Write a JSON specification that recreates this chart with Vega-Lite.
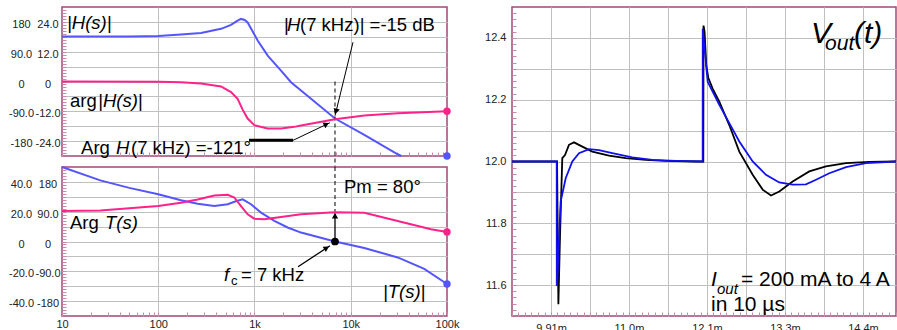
{
  "$schema": "https://vega.github.io/schema/vega-lite/v6.json",
  "padding": {"left": 7, "top": 5, "right": 0, "bottom": 0},
  "background": "white",
  "config": {
    "font": "Liberation Sans",
    "view": {"stroke": "#a04a78", "strokeWidth": 1.5},
    "axis": {"labelFont": "Liberation Sans", "labelFontSize": 11, "labelColor": "#222222", "domain": false, "gridColor": "#c0c0c0", "gridWidth": 1, "labelFlush": false, "labelOverlap": false},
    "text": {"font": "Liberation Sans"}
  },
  "datasets": {
    "Hmag": [{"f":10,"db":18.1},{"f":50,"db":18.1},{"f":100,"db":18.3},{"f":172,"db":18.9},{"f":278,"db":19.5},{"f":449,"db":21.2},{"f":570,"db":22.8},{"f":660,"db":24.4},{"f":724,"db":25.2},{"f":790,"db":24.8},{"f":849,"db":23.8},{"f":1078,"db":16.5},{"f":1371,"db":10.4},{"f":1885,"db":4.4},{"f":2394,"db":-0.3},{"f":3043,"db":-3.6},{"f":6855,"db":-14.9},{"f":13840,"db":-21.5},{"f":30750,"db":-29.3},{"f":33500,"db":-30}],
    "Hphase": [{"f":10,"deg":0},{"f":100,"deg":-1},{"f":172,"deg":-2},{"f":278,"deg":-6},{"f":449,"deg":-15},{"f":570,"deg":-32},{"f":668,"deg":-52},{"f":753,"deg":-85},{"f":849,"deg":-112},{"f":996,"deg":-132},{"f":1371,"deg":-142},{"f":1885,"deg":-142},{"f":2593,"deg":-137},{"f":3043,"deg":-133},{"f":6855,"deg":-114},{"f":13840,"deg":-103},{"f":30750,"deg":-96},{"f":100000,"deg":-90}],
    "Tmag": [{"f":10,"db":50},{"f":25,"db":41},{"f":50,"db":36},{"f":100,"db":31.7},{"f":172,"db":27.7},{"f":257,"db":25.4},{"f":382,"db":23.8},{"f":527,"db":25.0},{"f":640,"db":27},{"f":753,"db":28.3},{"f":920,"db":25.0},{"f":1169,"db":19.4},{"f":1607,"db":13.8},{"f":2211,"db":9.4},{"f":3043,"db":6.0},{"f":6855,"db":0},{"f":13840,"db":-4.4},{"f":30750,"db":-10.7},{"f":58070,"db":-18.4},{"f":100000,"db":-28.5}],
    "Tphase": [{"f":10,"deg":92},{"f":25,"deg":94},{"f":100,"deg":107},{"f":172,"deg":117},{"f":257,"deg":127},{"f":382,"deg":139},{"f":527,"deg":141},{"f":617,"deg":133},{"f":724,"deg":107},{"f":849,"deg":82},{"f":996,"deg":69},{"f":1266,"deg":67},{"f":1885,"deg":74},{"f":3043,"deg":82},{"f":6855,"deg":88},{"f":13840,"deg":87},{"f":30750,"deg":62},{"f":68200,"deg":37},{"f":100000,"deg":29}],
    "vblack": [{"t":9.35,"v":12.0},{"t":9.997,"v":12.0},{"t":10.016,"v":11.538},{"t":10.04,"v":11.765},{"t":10.072,"v":12.011},{"t":10.111,"v":12.021},{"t":10.168,"v":12.054},{"t":10.24,"v":12.062},{"t":10.36,"v":12.048},{"t":10.503,"v":12.032},{"t":10.743,"v":12.019},{"t":10.983,"v":12.011},{"t":11.27,"v":12.005},{"t":11.557,"v":12.002},{"t":12.0,"v":12.0},{"t":12.097,"v":12.0},{"t":12.1,"v":12.44},{"t":12.115,"v":12.42},{"t":12.14,"v":12.31},{"t":12.17,"v":12.27},{"t":12.231,"v":12.236},{"t":12.327,"v":12.194},{"t":12.47,"v":12.118},{"t":12.614,"v":12.032},{"t":12.806,"v":11.957},{"t":12.949,"v":11.909},{"t":13.069,"v":11.89},{"t":13.188,"v":11.903},{"t":13.38,"v":11.935},{"t":13.619,"v":11.968},{"t":13.858,"v":11.984},{"t":14.146,"v":11.995},{"t":14.48,"v":11.999},{"t":14.864,"v":12.0}],
    "vblue": [{"t":9.35,"v":12.0},{"t":9.992,"v":12.0},{"t":9.993,"v":11.597},{"t":10.003,"v":11.62},{"t":10.025,"v":11.75},{"t":10.049,"v":11.871},{"t":10.121,"v":11.946},{"t":10.216,"v":12.0},{"t":10.312,"v":12.027},{"t":10.456,"v":12.04},{"t":10.599,"v":12.037},{"t":10.79,"v":12.027},{"t":11.077,"v":12.013},{"t":11.365,"v":12.005},{"t":11.7,"v":12.002},{"t":12.088,"v":12.0},{"t":12.089,"v":12.43},{"t":12.16,"v":12.258},{"t":12.231,"v":12.226},{"t":12.327,"v":12.183},{"t":12.47,"v":12.124},{"t":12.614,"v":12.065},{"t":12.806,"v":12.0},{"t":12.997,"v":11.957},{"t":13.188,"v":11.932},{"t":13.38,"v":11.925},{"t":13.571,"v":11.926},{"t":13.715,"v":11.941},{"t":13.906,"v":11.962},{"t":14.146,"v":11.982},{"t":14.433,"v":11.995},{"t":14.864,"v":12.0}],
    "topItalic": [{"f":11.27,"db":21.3,"label":"|H(s)|"},{"f":23.7,"db":-10.4,"label":"|H(s)|"},{"f":36.4,"db":-29.3,"label":"H"},{"f":2178,"db":20.5,"label":"H"}],
    "topUpright": [{"f":12.1,"db":-10.4,"label":"arg"},{"f":15.8,"db":-29.3,"label":"Arg"},{"f":52.1,"db":-29.3,"label":"(7 kHz) =-121°"},{"f":2028,"db":20.5,"label":"|"},{"f":2972,"db":20.5,"label":"(7 kHz)| =-15 dB"}],
    "topArrows": [{"seg":"a","f":10550,"db":15.8},{"seg":"a","f":6860,"db":-13.8},{"seg":"b","f":2512,"db":-23.7},{"seg":"b","f":6080,"db":-16.6}],
    "botItalic": [{"f":28.0,"db":8.3,"label":"T(s)"},{"f":482,"db":-26.7,"label":"f"},{"f":21600,"db":-37.6,"label":"|T(s)|"}],
    "botUpright": [{"f":12.1,"db":8.3,"label":"Arg"},{"f":8510,"db":32.5,"label":"Pm = 80°"},{"f":724,"db":-26.7,"label":"= 7 kHz"}],
    "botArrows": [{"seg":"c","f":2832,"db":-16.9},{"seg":"c","f":6080,"db":-2.9},{"seg":"d","f":6860,"db":0},{"seg":"d","f":6860,"db":19}]
  },
  "hconcat": [
    {
      "vconcat": [
        {
          "width": 385, "height": 149,
          "resolve": {"scale": {"y": "independent"}},
          "encoding": {
            "x": {"field": "f", "type": "quantitative", "title": null,
              "scale": {"type": "log", "domain": [10, 100000], "nice": false},
              "axis": {"values": [10,20,30,40,50,60,70,80,90,100,200,300,400,500,600,700,800,900,1000,2000,3000,4000,5000,6000,7000,8000,9000,10000,20000,30000,40000,50000,60000,70000,80000,90000,100000],
                "grid": true, "gridOpacity": {"condition": {"test": "abs(log(datum.value)/LN10 - round(log(datum.value)/LN10)) < 0.001 && datum.value > 11 && datum.value < 90000", "value": 1}, "value": 0},
                "ticks": true, "tickSize": -4, "tickColor": "#c98aab", "labels": false}}
          },
          "layer": [
            {
              "encoding": {
                "y": {"field": "db", "type": "quantitative", "title": null,
                  "scale": {"domain": [-30, 30], "nice": false, "zero": false},
                  "axis": {"orient": "left", "values": [-28.8,-27.6,-26.4,-25.2,-24,-22.8,-21.6,-20.4,-19.2,-18,-16.8,-15.6,-14.4,-13.2,-12,-10.8,-9.6,-8.4,-7.2,-6,-4.8,-3.6,-2.4,-1.2,0,1.2,2.4,3.6,4.8,6,7.2,8.4,9.6,10.8,12,13.2,14.4,15.6,16.8,18,19.2,20.4,21.6,22.8,24,25.2,26.4,27.6,28.8],
                    "grid": true, "gridOpacity": {"condition": {"test": "abs(datum.value/6 - round(datum.value/6)) < 0.01", "value": 1}, "value": 0},
                    "ticks": true, "tickSize": -4, "tickColor": "#c98aab",
                    "labelExpr": "abs(datum.value/12 - round(datum.value/12)) < 0.01 ? (abs(datum.value) < 0.01 ? '0' : replace(format(datum.value, '.3r'), '−', '-')) : ''",
                    "labelAlign": "center", "labelBaseline": "middle", "labelPadding": 18.5, "labelOffset": 2.5}}
              },
              "layer": [
                {"data": {"values": [{}]}, "mark": {"type": "rule", "color": "#800040", "strokeWidth": 1.3},
                  "encoding": {"x": {"datum": 10, "type": "quantitative"}, "x2": {"datum": 100000}, "y": {"datum": 0, "type": "quantitative"}}},
                {"data": {"name": "Hmag"}, "mark": {"type": "line", "color": "#5555ff", "strokeWidth": 2}},
                {"data": {"values": [{"f": 100000, "db": -30}]}, "mark": {"type": "point", "filled": true, "size": 55, "color": "#5555ff", "opacity": 1}},
                {"data": {"values": [{"f": 6860, "db": 0, "db2": -34.5}]}, "mark": {"type": "rule", "color": "black", "strokeDash": [4, 3], "strokeWidth": 1},
                  "encoding": {"y2": {"field": "db2"}}},
                {"data": {"name": "topArrows"}, "mark": {"type": "line", "color": "black", "strokeWidth": 1}, "encoding": {"detail": {"field": "seg"}}},
                {"data": {"values": [{"f": 877, "db": -23.7}, {"f": 2512, "db": -23.7}]}, "mark": {"type": "line", "color": "black", "strokeWidth": 3}},
                {"data": {"values": [{"f": 7030, "db": -12.0}]}, "mark": {"type": "point", "shape": "triangle-up", "filled": true, "color": "black", "size": 40, "angle": 194, "opacity": 1}},
                {"data": {"values": [{"f": 5585, "db": -17.2}]}, "mark": {"type": "point", "shape": "triangle-up", "filled": true, "color": "black", "size": 40, "angle": 64, "opacity": 1}},
                {"data": {"name": "topItalic"}, "mark": {"type": "text", "align": "left", "baseline": "alphabetic", "fontSize": 18.5, "fontStyle": "italic", "color": "black"}, "encoding": {"text": {"field": "label"}}},
                {"data": {"name": "topUpright"}, "mark": {"type": "text", "align": "left", "baseline": "alphabetic", "fontSize": 18.5, "color": "black"}, "encoding": {"text": {"field": "label"}}}
              ]
            },
            {
              "encoding": {
                "y": {"field": "deg", "type": "quantitative", "title": null,
                  "scale": {"domain": [-225, 225], "nice": false, "zero": false},
                  "axis": {"orient": "left", "values": [-180, -90, 0, 90, 180], "grid": false, "ticks": false,
                    "labelExpr": "abs(datum.value) < 0.01 ? '0' : replace(format(datum.value, '.3r'), '−', '-')",
                    "labelAlign": "center", "labelBaseline": "middle", "labelPadding": 41, "labelOffset": 2.5}}
              },
              "layer": [
                {"data": {"name": "Hphase"}, "mark": {"type": "line", "color": "#ff2288", "strokeWidth": 2}},
                {"data": {"values": [{"f": 100000, "deg": -90}]}, "mark": {"type": "point", "filled": true, "size": 55, "color": "#ff2288", "opacity": 1}}
              ]
            }
          ]
        },
        {
          "width": 385, "height": 149,
          "resolve": {"scale": {"y": "independent"}},
          "encoding": {
            "x": {"field": "f", "type": "quantitative", "title": null,
              "scale": {"type": "log", "domain": [10, 100000], "nice": false},
              "axis": {"values": [10,20,30,40,50,60,70,80,90,100,200,300,400,500,600,700,800,900,1000,2000,3000,4000,5000,6000,7000,8000,9000,10000,20000,30000,40000,50000,60000,70000,80000,90000,100000],
                "grid": true, "gridOpacity": {"condition": {"test": "abs(log(datum.value)/LN10 - round(log(datum.value)/LN10)) < 0.001 && datum.value > 11 && datum.value < 90000", "value": 1}, "value": 0},
                "ticks": true, "tickSize": -4, "tickColor": "#c98aab", "labels": true, "labelPadding": 6,
                "labelExpr": "datum.value == 10 ? '10' : datum.value == 100 ? '100' : datum.value == 1000 ? '1k' : datum.value == 10000 ? '10k' : datum.value == 100000 ? '100k' : ''"}}
          },
          "layer": [
            {
              "encoding": {
                "y": {"field": "db", "type": "quantitative", "title": null,
                  "scale": {"domain": [-50, 50], "nice": false, "zero": false},
                  "axis": {"orient": "left", "values": [-48,-46,-44,-42,-40,-38,-36,-34,-32,-30,-28,-26,-24,-22,-20,-18,-16,-14,-12,-10,-8,-6,-4,-2,0,2,4,6,8,10,12,14,16,18,20,22,24,26,28,30,32,34,36,38,40,42,44,46,48],
                    "grid": true, "gridOpacity": {"condition": {"test": "abs(datum.value/10 - round(datum.value/10)) < 0.01", "value": 1}, "value": 0},
                    "ticks": true, "tickSize": -4, "tickColor": "#c98aab",
                    "labelExpr": "abs(datum.value/20 - round(datum.value/20)) < 0.01 ? (abs(datum.value) < 0.01 ? '0' : replace(format(datum.value, '.3r'), '−', '-')) : ''",
                    "labelAlign": "center", "labelBaseline": "middle", "labelPadding": 45, "labelOffset": 2.5}}
              },
              "layer": [
                {"data": {"values": [{}]}, "mark": {"type": "rule", "color": "#800040", "strokeWidth": 1.3},
                  "encoding": {"x": {"datum": 10, "type": "quantitative"}, "x2": {"datum": 100000}, "y": {"datum": 0, "type": "quantitative"}}},
                {"data": {"name": "Tmag"}, "mark": {"type": "line", "color": "#5555ff", "strokeWidth": 2}},
                {"data": {"values": [{"f": 100000, "db": -28.5}]}, "mark": {"type": "point", "filled": true, "size": 55, "color": "#5555ff", "opacity": 1}},
                {"data": {"values": [{"f": 6860, "db": 50, "db2": 20}]}, "mark": {"type": "rule", "color": "black", "strokeDash": [4, 3], "strokeWidth": 1},
                  "encoding": {"y2": {"field": "db2"}}},
                {"data": {"name": "botArrows"}, "mark": {"type": "line", "color": "black", "strokeWidth": 1.3}, "encoding": {"detail": {"field": "seg"}}},
                {"data": {"values": [{"f": 6860, "db": 17.3}]}, "mark": {"type": "point", "shape": "triangle-up", "filled": true, "color": "black", "size": 40, "angle": 0, "opacity": 1}},
                {"data": {"values": [{"f": 5610, "db": -4.3}]}, "mark": {"type": "point", "shape": "triangle-up", "filled": true, "color": "black", "size": 40, "angle": 58, "opacity": 1}},
                {"data": {"values": [{"f": 6860, "db": 0}]}, "mark": {"type": "point", "filled": true, "color": "black", "size": 60, "opacity": 1}},
                {"data": {"name": "botItalic"}, "mark": {"type": "text", "align": "left", "baseline": "alphabetic", "fontSize": 18.5, "fontStyle": "italic", "color": "black"}, "encoding": {"text": {"field": "label"}}},
                {"data": {"name": "botUpright"}, "mark": {"type": "text", "align": "left", "baseline": "alphabetic", "fontSize": 18.5, "color": "black"}, "encoding": {"text": {"field": "label"}}},
                {"data": {"values": [{"f": 570, "db": -28.9, "label": "c"}]}, "mark": {"type": "text", "align": "left", "baseline": "alphabetic", "fontSize": 13, "color": "black"}, "encoding": {"text": {"field": "label"}}}
              ]
            },
            {
              "encoding": {
                "y": {"field": "deg", "type": "quantitative", "title": null,
                  "scale": {"domain": [-225, 225], "nice": false, "zero": false},
                  "axis": {"orient": "left", "values": [-180, -90, 0, 90, 180], "grid": false, "ticks": false,
                    "labelExpr": "abs(datum.value) < 0.01 ? '0' : replace(format(datum.value, '.3r'), '−', '-')",
                    "labelAlign": "center", "labelBaseline": "middle", "labelPadding": 14.5, "labelOffset": 2.5}}
              },
              "layer": [
                {"data": {"name": "Tphase"}, "mark": {"type": "line", "color": "#ff2288", "strokeWidth": 2}},
                {"data": {"values": [{"f": 100000, "deg": 29}]}, "mark": {"type": "point", "filled": true, "size": 55, "color": "#ff2288", "opacity": 1}}
              ]
            }
          ]
        }
      ],
      "spacing": 11,
      "bounds": "flush"
    },
    {
      "width": 384, "height": 309,
      "encoding": {
        "x": {"field": "t", "type": "quantitative", "title": null,
          "scale": {"domain": [9.35, 14.864], "nice": false, "zero": false},
          "axis": {"values": [9.35,9.443,9.537,9.63,9.723,9.817,9.91,10.003,10.097,10.19,10.283,10.377,10.47,10.563,10.657,10.75,10.843,10.937,11.03,11.123,11.217,11.31,11.403,11.497,11.59,11.683,11.777,11.87,11.963,12.057,12.15,12.243,12.337,12.43,12.523,12.617,12.71,12.803,12.897,12.99,13.083,13.177,13.27,13.363,13.457,13.55,13.643,13.737,13.83,13.923,14.017,14.11,14.203,14.297,14.39,14.483,14.577,14.67,14.763,14.857],
            "grid": true, "gridOpacity": {"condition": {"test": "abs((datum.value-9.35)/0.56 - round((datum.value-9.35)/0.56)) < 0.02 && datum.value > 9.4", "value": 1}, "value": 0},
            "ticks": true, "tickSize": -4, "tickColor": "#c98aab", "labelPadding": 10,
            "labelExpr": "abs((datum.value-9.35)/0.56 - round((datum.value-9.35)/0.56)) < 0.02 && round((datum.value-9.35)/0.56) % 2 == 1 ? format(datum.value - 0.0001, '.3r') + 'm' : ''"}},
        "y": {"field": "v", "type": "quantitative", "title": null,
          "scale": {"domain": [11.5, 12.5], "nice": false, "zero": false},
          "axis": {"values": [11.52,11.54,11.56,11.58,11.6,11.62,11.64,11.66,11.68,11.7,11.72,11.74,11.76,11.78,11.8,11.82,11.84,11.86,11.88,11.9,11.92,11.94,11.96,11.98,12,12.02,12.04,12.06,12.08,12.1,12.12,12.14,12.16,12.18,12.2,12.22,12.24,12.26,12.28,12.3,12.32,12.34,12.36,12.38,12.4,12.42,12.44,12.46,12.48],
            "grid": true, "gridOpacity": {"condition": {"test": "abs(datum.value*10 - round(datum.value*10)) < 0.01", "value": 1}, "value": 0},
            "ticks": true, "tickSize": -4, "tickColor": "#c98aab", "labelPadding": 10,
            "labelExpr": "abs(datum.value*5 - round(datum.value*5)) < 0.01 ? format(datum.value, '.1f') : ''"}}
      },
      "layer": [
        {"data": {"values": [{}]}, "mark": {"type": "rule", "color": "#800040", "strokeWidth": 1.3},
          "encoding": {"x": {"datum": 9.35, "type": "quantitative"}, "x2": {"datum": 14.864}, "y": {"datum": 12, "type": "quantitative"}}},
        {"data": {"values": [{}]}, "mark": {"type": "rule", "color": "#800040", "strokeWidth": 1.3},
          "encoding": {"x": {"datum": 12.15, "type": "quantitative"}, "y": {"datum": 11.5, "type": "quantitative"}, "y2": {"datum": 12.5}}},
        {"data": {"name": "vblack"}, "mark": {"type": "line", "color": "black", "strokeWidth": 1.8}},
        {"data": {"name": "vblue"}, "mark": {"type": "line", "color": "#1010ee", "strokeWidth": 1.8}},
        {"data": {"values": [{"t": 13.643, "v": 12.3835, "label": "V"}, {"t": 14.261, "v": 12.3835, "label": "(t)"}]}, "mark": {"type": "text", "align": "left", "baseline": "alphabetic", "fontSize": 30, "fontStyle": "italic", "color": "black"}, "encoding": {"text": {"field": "label"}}},
        {"data": {"values": [{"t": 13.845, "v": 12.361, "label": "out"}, {"t": 12.2075, "v": 11.597, "label": "I"}]}, "mark": {"type": "text", "align": "left", "baseline": "alphabetic", "fontSize": 21, "fontStyle": "italic", "color": "black"}, "encoding": {"text": {"field": "label"}}},
        {"data": {"values": [{"t": 12.294, "v": 11.571, "label": "out"}]}, "mark": {"type": "text", "align": "left", "baseline": "alphabetic", "fontSize": 15, "fontStyle": "italic", "color": "black"}, "encoding": {"text": {"field": "label"}}},
        {"data": {"values": [{"t": 12.638, "v": 11.597, "label": "= 200 mA to 4 A"}, {"t": 12.2075, "v": 11.516, "label": "in 10 µs"}]}, "mark": {"type": "text", "align": "left", "baseline": "alphabetic", "fontSize": 21, "color": "black"}, "encoding": {"text": {"field": "label"}}}
      ]
    }
  ],
  "spacing": 23
}
